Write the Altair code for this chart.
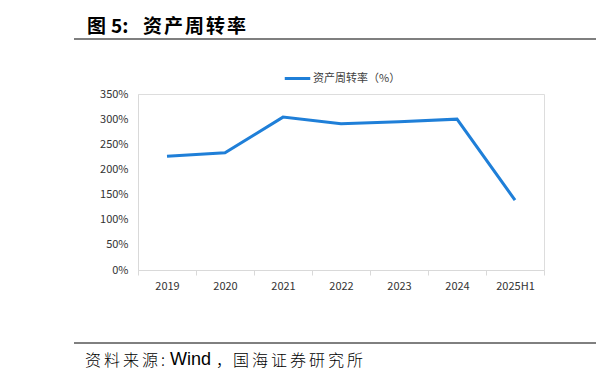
import altair as alt
import pandas as pd

categories = ["2019", "2020", "2021", "2022", "2023", "2024", "2025H1"]
turnover = [226, 233, 304, 291, 295, 300, 139]
series_name = "资产周转率（%）"
y_ticks = [0, 50, 100, 150, 200, 250, 300, 350]

title_parts = ["图", "5:", "资", "产", "周", "转", "率"]
footer_cjk = ["资", "料", "来", "源", ":", "，", "国", "海", "证", "券", "研", "究", "所"]
footer_latin = ["Wind"]

df = pd.DataFrame({"year": categories, "value": turnover, "series": series_name})

FONT = "Noto Sans CJK SC"
BLUE = "#1F7FD8"
OX, OY = 138, 94  # plot origin in page coordinates

W, H = 406, 176

line = alt.Chart(df).mark_line(strokeWidth=3, color=BLUE).encode(
    x=alt.X("year:O", sort=categories,
            scale=alt.Scale(type="band", paddingInner=0, paddingOuter=0),
            axis=alt.Axis(title=None, labelAngle=0, tickBand="extent", tickSize=5,
                          tickColor="#D9D9D9", domainColor="#D9D9D9", labelPadding=5,
                          labelFont=FONT, labelFontSize=11, labelColor="#333333")),
    y=alt.Y("value:Q", scale=alt.Scale(domain=[0, 350], nice=False),
            axis=alt.Axis(title=None, values=y_ticks, labelExpr="datum.value + '%'",
                          grid=False, ticks=False, domainColor="#D9D9D9", labelPadding=10,
                          labelFont=FONT, labelFontSize=11, labelColor="#333333")),
    color=alt.Color("series:N", scale=alt.Scale(range=[BLUE]),
                    legend=alt.Legend(title=None, orient="none", legendX=145, legendY=-30,
                                      symbolType="stroke", symbolStrokeWidth=3,
                                      symbolSize=650, labelFont=FONT, labelFontSize=11,
                                      labelColor="#404040", labelOffset=1)),
)

# title pieces (page x positions)
title_x = [87, 111, 143, 164, 185, 206, 227]
tdf = pd.DataFrame({"t": title_parts, "px": [x - OX for x in title_x]})
title = alt.Chart(tdf).mark_text(
    align="left", baseline="alphabetic", font=FONT, fontSize=19, fontWeight="bold",
    color="#000000").encode(x=alt.X("px:Q", scale=None), y=alt.value(33 - OY), text="t:N")

footer_x = [85, 104, 123, 142, 161, 216, 233, 252, 271, 290, 309, 328, 347]
fdf = pd.DataFrame({"t": footer_cjk, "px": [x - OX for x in footer_x]})
foot = alt.Chart(fdf).mark_text(
    align="left", baseline="alphabetic", font=FONT, fontSize=16, fontWeight=300,
    color="#000000").encode(x=alt.X("px:Q", scale=None), y=alt.value(366 - OY), text="t:N")

ldf = pd.DataFrame({"t": footer_latin, "px": [170 - OX]})
foot_latin = alt.Chart(ldf).mark_text(
    align="left", baseline="alphabetic", font="Liberation Sans", fontSize=18,
    color="#000000").encode(x=alt.X("px:Q", scale=None), y=alt.value(365 - OY), text="t:N")

title_rule = alt.Chart(pd.DataFrame({"a": [0]})).mark_rule(color="#7F7F7F", strokeWidth=2).encode(
    x=alt.value(74 - OX), x2=alt.value(612 - OX), y=alt.value(39 - OY))

foot_rule = alt.Chart(pd.DataFrame({"a": [0]})).mark_rule(color="#000000", strokeWidth=1).encode(
    x=alt.value(74 - OX), x2=alt.value(612 - OX), y=alt.value(343 - OY))

chart = alt.layer(line, title, title_rule, foot_rule, foot, foot_latin).properties(
    width=W, height=H,
    autosize=alt.AutoSizeParams(type="none"),
    padding={"left": OX - 8, "top": OY - 8, "right": 52, "bottom": 104},
).configure_view(stroke=None).configure(background="white")

chart.save("out.html", embed_options={"renderer": "svg", "actions": False})
